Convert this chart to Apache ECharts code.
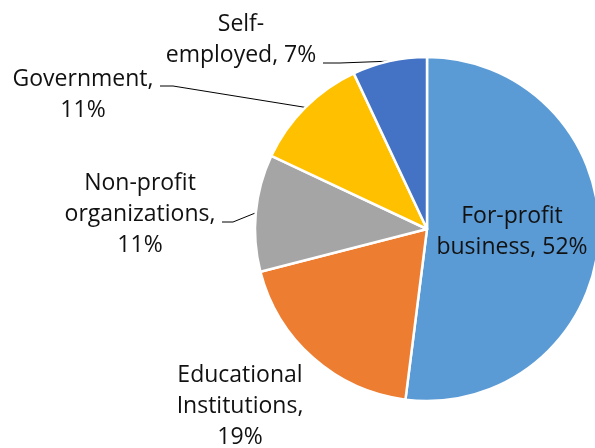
<!DOCTYPE html>
<html>
<head>
<meta charset="utf-8">
<script src="https://cdn.jsdelivr.net/npm/echarts@6/dist/echarts.min.js"></script>
<style>
  html, body { margin: 0; padding: 0; background: #fff; }
  #chart { width: 595px; height: 448px; }
</style>
</head>
<body>
<div id="chart"></div>
<script>
// Sector shares (percent), drawn clockwise from 12 o'clock
const categories = [
  'For-profit business',
  'Educational Institutions',
  'Non-profit organizations',
  'Government',
  'Self-employed'
];
const shares = [52, 19, 11, 11, 7];
const labelTexts = [
  'For-profit\nbusiness, 52%',
  'Educational\nInstitutions,\n19%',
  'Non-profit\norganizations,\n11%',
  'Government,\n11%',
  'Self-\nemployed, 7%'
];
const colors = ['#5B9BD5', '#ED7D31', '#A5A5A5', '#FFC000', '#4472C4'];

// Where each label block sits (centre of the text block) and
// where its leader line turns before reaching the text.
const labelSpots = [
  { x: 512, y: 232, line: null },
  { x: 240, y: 406, line: null },
  { x: 140, y: 214, line: [[233, 222], [222, 222]] },
  { x: 83,  y: 95,  line: [[173, 86], [160, 86]] },
  { x: 241, y: 40,  line: [[340, 63], [323, 63]] }
];

const chart = echarts.init(document.getElementById('chart'));
chart.setOption({
  animation: false,
  series: [{
    type: 'pie',
    center: [427, 229],
    radius: 172,
    startAngle: 90,
    clockwise: true,
    avoidLabelOverlap: false,
    itemStyle: { borderColor: '#fff', borderWidth: 2.5 },
    label: {
      show: true,
      position: 'outside',
      fontFamily: '"Open Sans", sans-serif',
      fontSize: 23,
      lineHeight: 31,
      color: '#111',
      align: 'center',
      formatter: p => labelTexts[p.dataIndex]
    },
    labelLine: {
      show: true,
      length: 10,
      length2: 10,
      lineStyle: { color: '#000', width: 1 }
    },
    labelLayout: function (params) {
      const spot = labelSpots[params.dataIndex];
      const res = { x: spot.x, y: spot.y, align: 'center', verticalAlign: 'middle' };
      if (spot.line && params.labelLinePoints) {
        res.labelLinePoints = [params.labelLinePoints[0]].concat(spot.line);
      } else {
        res.labelLinePoints = null;
      }
      return res;
    },
    data: categories.map((name, i) => ({
      name: name,
      value: shares[i],
      itemStyle: { color: colors[i] },
      labelLine: { show: labelSpots[i].line !== null }
    }))
  }]
});
</script>
</body>
</html>
